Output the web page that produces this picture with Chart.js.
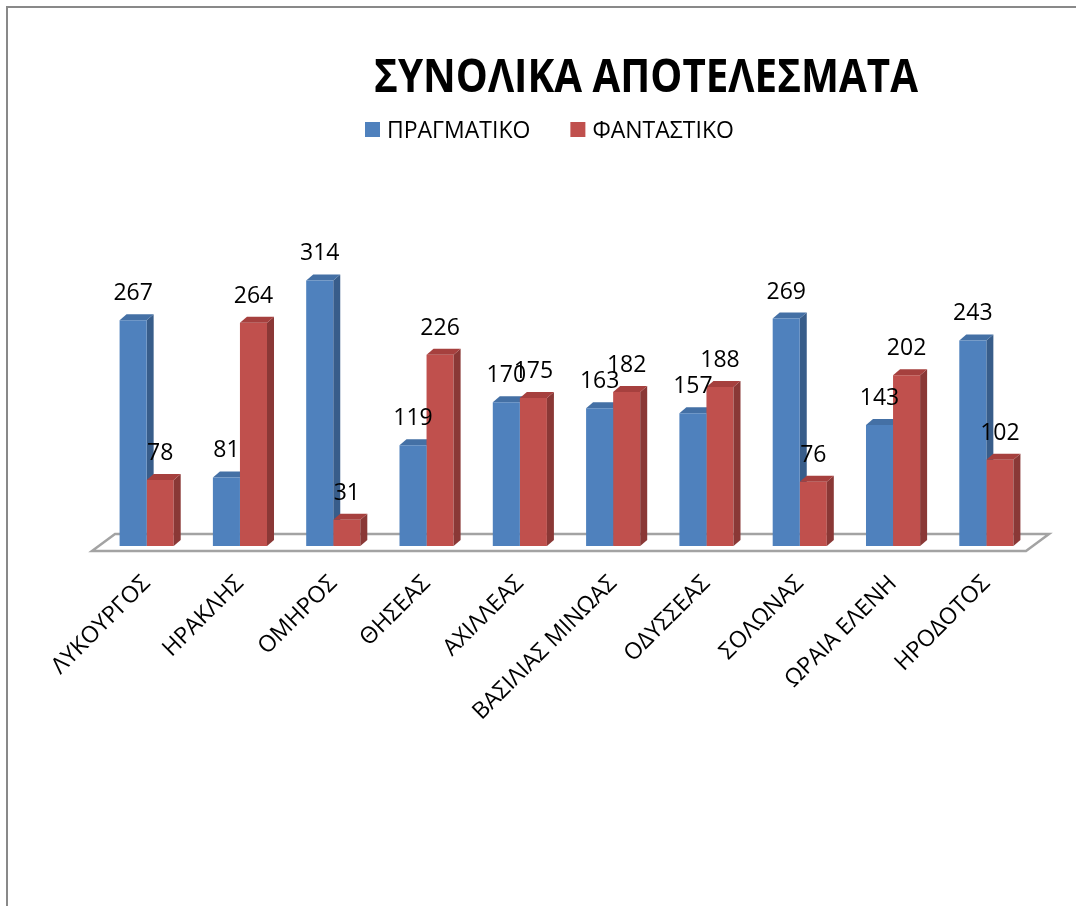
<!DOCTYPE html>
<html>
<head>
<meta charset="utf-8">
<script src="https://cdn.jsdelivr.net/npm/chart.js@4.4.1/dist/chart.umd.min.js"></script>
<style>
  html, body { margin: 0; padding: 0; background: #ffffff; }
  #wrap { position: relative; width: 1076px; height: 906px; }
  canvas { display: block; }
</style>
</head>
<body>
<div id="wrap"><canvas id="c" width="1076" height="906"></canvas></div>
<script>
const chartTitle = 'ΣΥΝΟΛΙΚΑ ΑΠΟΤΕΛΕΣΜΑΤΑ';
const categories = ['ΛΥΚΟΥΡΓΟΣ', 'ΗΡΑΚΛΗΣ', 'ΟΜΗΡΟΣ', 'ΘΗΣΕΑΣ', 'ΑΧΙΛΛΕΑΣ', 'ΒΑΣΙΛΙΑΣ ΜΙΝΩΑΣ', 'ΟΔΥΣΣΕΑΣ', 'ΣΟΛΩΝΑΣ', 'ΩΡΑΙΑ ΕΛΕΝΗ', 'ΗΡΟΔΟΤΟΣ'];
const seriesNames = ['ΠΡΑΓΜΑΤΙΚΟ', 'ΦΑΝΤΑΣΤΙΚΟ'];
const realValues = [267, 81, 314, 119, 170, 163, 157, 269, 143, 243];
const fantasyValues = [78, 264, 31, 226, 175, 182, 188, 76, 202, 102];
const yMax = 350;

const FONT = '"Open Sans", "DejaVu Sans", sans-serif';
const frontColors = ['#4f81bd', '#c0504d'];
const sideColors = ['#385d8a', '#8a3836'];
const topColors = ['#4470a5', '#a6403e'];
const DX = 7, DY = 6;

function drawFaces(chart, dsIndex) {
  const ctx = chart.ctx;
  const meta = chart.getDatasetMeta(dsIndex);
  meta.data.forEach(bar => {
    const p = bar.getProps(['x', 'y', 'base', 'width'], true);
    const l = p.x - p.width / 2, r = p.x + p.width / 2, t = p.y, b = p.base;
    ctx.save();
    ctx.fillStyle = sideColors[dsIndex];
    ctx.beginPath();
    ctx.moveTo(r, t); ctx.lineTo(r + DX, t - DY); ctx.lineTo(r + DX, b - DY); ctx.lineTo(r, b);
    ctx.closePath(); ctx.fill();
    ctx.fillStyle = topColors[dsIndex];
    ctx.beginPath();
    ctx.moveTo(l, t); ctx.lineTo(l + DX, t - DY); ctx.lineTo(r + DX, t - DY); ctx.lineTo(r, t);
    ctx.closePath(); ctx.fill();
    ctx.restore();
  });
}

const plugin3d = {
  id: 'plugin3d',
  beforeDraw(chart) {
    const ctx = chart.ctx;
    ctx.save();
    ctx.fillStyle = '#ffffff';
    ctx.fillRect(0, 0, chart.width, chart.height);
    ctx.strokeStyle = '#898989';
    ctx.lineWidth = 2;
    ctx.beginPath();
    ctx.moveTo(7, chart.height); ctx.lineTo(7, 7); ctx.lineTo(chart.width, 7);
    ctx.stroke();
    ctx.restore();
  },
  beforeDatasetsDraw(chart) {
    const ctx = chart.ctx;
    const a = chart.chartArea;
    ctx.save();
    ctx.fillStyle = '#ffffff';
    ctx.strokeStyle = '#a3a3a3';
    ctx.lineWidth = 2.5;
    ctx.beginPath();
    ctx.moveTo(a.left - 8, a.bottom + 5);
    ctx.lineTo(a.right - 7, a.bottom + 5);
    ctx.lineTo(a.right + 16, a.bottom - 12);
    ctx.lineTo(a.left + 15, a.bottom - 12);
    ctx.closePath();
    ctx.fill(); ctx.stroke();
    ctx.restore();
    drawFaces(chart, 0);
  },
  afterDatasetsDraw(chart) {
    drawFaces(chart, 1);
    const ctx = chart.ctx;
    ctx.save();
    ctx.font = '23px ' + FONT;
    ctx.fillStyle = '#000000';
    ctx.textAlign = 'center';
    ctx.textBaseline = 'alphabetic';
    chart.data.datasets.forEach((ds, i) => {
      chart.getDatasetMeta(i).data.forEach((bar, j) => {
        const p = bar.getProps(['x', 'y'], true);
        ctx.fillText(String(ds.data[j]), p.x, p.y - 20);
      });
    });
    ctx.restore();

    // title
    ctx.save();
    ctx.font = 'bold 46px ' + FONT;
    ctx.fillStyle = '#000000';
    ctx.textBaseline = 'alphabetic';
    const tw = ctx.measureText(chartTitle).width;
    const target = 544;
    const sx = target / tw;
    ctx.translate(646 - target / 2, 92);
    ctx.scale(sx, 1);
    ctx.textAlign = 'left';
    ctx.fillText(chartTitle, 0, 0);
    ctx.restore();

    // legend
    ctx.save();
    ctx.font = '23px ' + FONT;
    ctx.textBaseline = 'alphabetic';
    ctx.textAlign = 'left';
    let x = 365;
    seriesNames.forEach((name, i) => {
      ctx.fillStyle = frontColors[i];
      ctx.fillRect(x, 122, 15, 15);
      ctx.fillStyle = '#000000';
      ctx.fillText(name, x + 22, 138);
      x += 22 + ctx.measureText(name).width + 40;
    });
    ctx.restore();
  }
};

new Chart(document.getElementById('c'), {
  type: 'bar',
  data: {
    labels: categories,
    datasets: [
      { label: seriesNames[0], data: realValues, backgroundColor: frontColors[0], borderWidth: 0 },
      { label: seriesNames[1], data: fantasyValues, backgroundColor: frontColors[1], borderWidth: 0 }
    ]
  },
  options: {
    responsive: false,
    animation: false,
    devicePixelRatio: 1,
    layout: { padding: { left: 100, right: 43, top: 250, bottom: 0 } },
    datasets: { bar: { categoryPercentage: 0.58, barPercentage: 1.0 } },
    plugins: {
      legend: { display: false },
      title: { display: false },
      tooltip: { enabled: false }
    },
    scales: {
      x: {
        grid: { display: false, drawTicks: false },
        border: { display: false },
        ticks: {
          autoSkip: false,
          maxRotation: 45,
          minRotation: 45,
          padding: 24,
          color: '#000000',
          font: { size: 23, family: FONT }
        },
        afterFit(scale) {
          scale.height = 360;
          scale.paddingLeft = 0;
          scale.paddingRight = 0;
        }
      },
      y: {
        display: false,
        min: 0,
        max: yMax
      }
    }
  },
  plugins: [plugin3d]
});
</script>
</body>
</html>
